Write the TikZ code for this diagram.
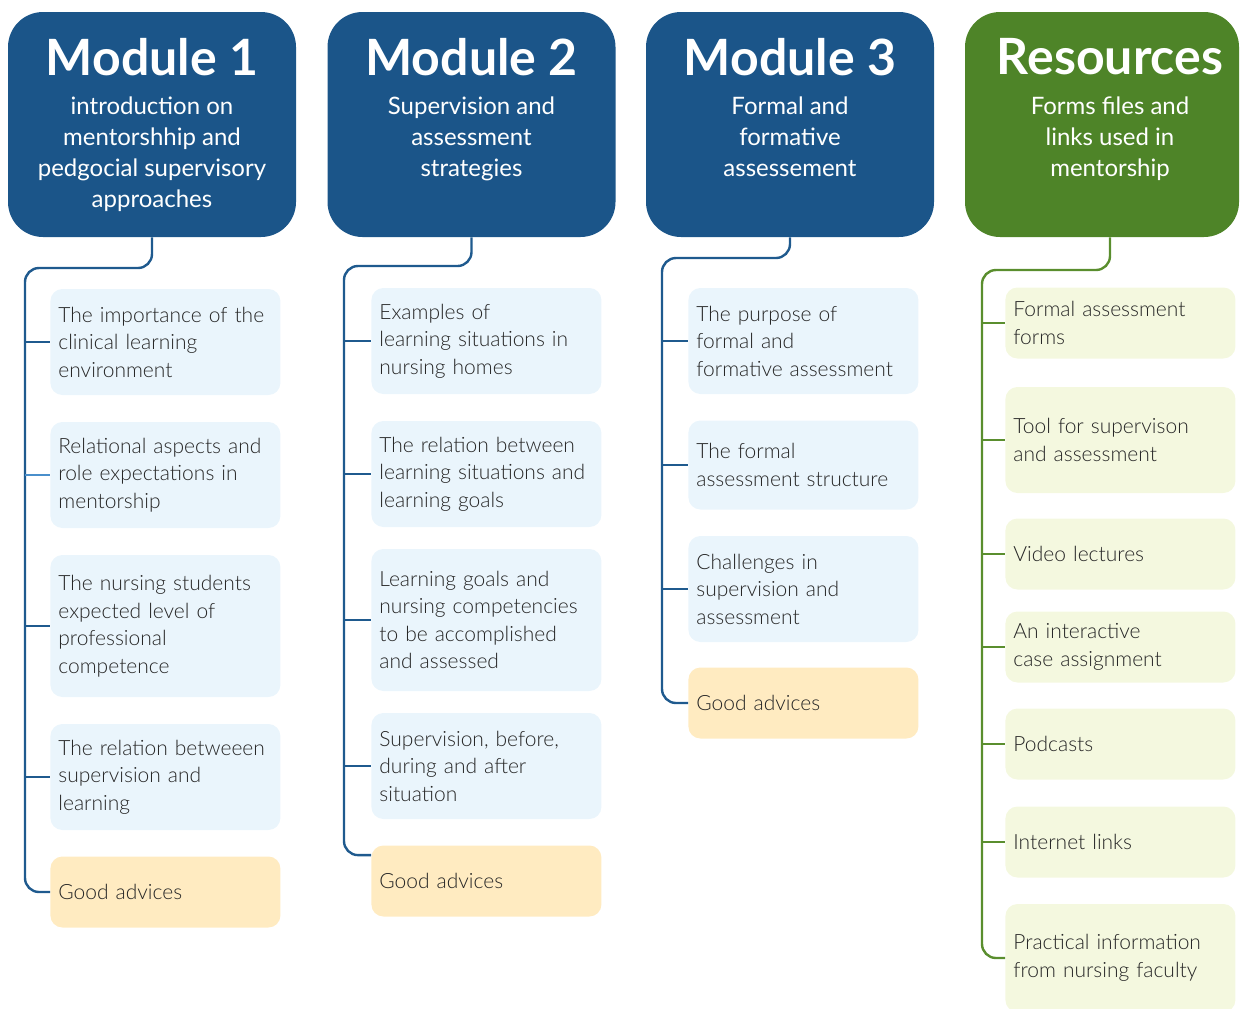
\documentclass[tikz,border=0pt]{standalone}
\usepackage{fontspec}
\setmainfont{Lato}
\newfontfamily\lightfont{Lato Light}
\usetikzlibrary{positioning}
\definecolor{modblue}{HTML}{1B5589}
\definecolor{lineblue}{HTML}{1F5A8E}
\definecolor{lightline}{HTML}{4A8FCB}
\definecolor{resgreen}{HTML}{4E8428}
\definecolor{linegreen}{HTML}{5A8E2E}
\definecolor{paleblue}{HTML}{EAF5FC}
\definecolor{paleorange}{HTML}{FFEBC1}
\definecolor{palegreen}{HTML}{F4F8DF}
\definecolor{textgray}{HTML}{262626}

\begin{document}
\begin{tikzpicture}[x=0.5pt,y=-0.5pt,
hdr/.style={fill=#1,rounded corners=17.5pt,minimum width=144pt,minimum height=112.5pt,inner sep=0pt},
ttl/.style={text=white,inner sep=0pt,font=\fontsize{25}{28}\selectfont\bfseries},
sub/.style={text=white,inner sep=0pt,anchor=north,align=center,font=\fontsize{12}{15.5}\selectfont},
topic/.style={rounded corners=6pt,anchor=west,minimum width=114.5pt,text width=107pt,inner xsep=4pt,
  align=left,text=textgray,font=\fontsize{10.5}{13.75}\selectfont\lightfont},
subtopic/.style={topic,fill=paleblue},
advice/.style={topic,fill=paleorange},
resitem/.style={topic,fill=palegreen},
bline/.style={draw=lineblue,line width=1.2pt,rounded corners=7pt},
gline/.style={draw=linegreen,line width=1.2pt,rounded corners=7pt}]
\useasboundingbox (0,0) rectangle (1242,1008);

%headers
\node[hdr=modblue] (h1) at (152,124.5) {};
\node[hdr=modblue] (h2) at (471.5,124.5) {};
\node[hdr=modblue] (h3) at (790,124.5) {};
\node[hdr=resgreen,minimum width=137pt] (h4) at (1102,124.5) {};
\node[ttl] (t1) at (152,57) {Module 1};
\node[ttl] (t2) at (471.5,57) {Module 2};
\node[ttl] (t3) at (790,57) {Module 3};
\node[ttl] (t4) at (1110,57) {Resources};
\node[sub] (s1) at (152,96) {introduction on\\mentorshhip and\\pedgocial supervisory\\approaches};
\node[sub] (s2) at (471.5,96) {Supervision and\\assessment\\strategies};
\node[sub] (s3) at (790,96) {Formal and\\formative\\assessement};
\node[sub] (s4) at (1110,96) {Forms files and\\links used in\\mentorship};

%module 1
\node[subtopic,minimum height=53pt] (m1a) at (50,342) {The importance of the\\clinical learning\\environment};
\node[subtopic,minimum height=53pt] (m1b) at (50,475) {Relational aspects and\\role expectations in\\mentorship};
\node[subtopic,minimum height=71pt] (m1c) at (50,626) {The nursing students\\expected level of\\professional\\competence};
\node[subtopic,minimum height=53pt] (m1d) at (50,777) {The relation betweeen\\supervision and\\learning};
\node[advice,minimum height=35.5pt] (g1) at (50,892) {Good advices};

%module 2
\node[subtopic,minimum height=53pt] (m2a) at (371,341) {Examples of\\learning situations in\\nursing homes};
\node[subtopic,minimum height=53pt] (m2b) at (371,474) {The relation between\\learning situations and\\learning goals};
\node[subtopic,minimum height=71pt] (m2c) at (371,620) {Learning goals and\\nursing competencies\\to be accomplished\\and assessed};
\node[subtopic,minimum height=53pt] (m2d) at (371,766) {Supervision, before,\\during and after\\situation};
\node[advice,minimum height=35.5pt] (g2) at (371,881) {Good advices};

%module 3
\node[subtopic,minimum height=53pt] (m3a) at (688,341) {The purpose of\\formal and\\formative assessment};
\node[subtopic,minimum height=44.5pt] (m3b) at (688,465) {The formal\\assessment structure};
\node[subtopic,minimum height=53pt] (m3c) at (688,589) {Challenges in\\supervision and\\assessment};
\node[advice,minimum height=35.5pt] (g3) at (688,703) {Good advices};

%resources
\node[resitem,minimum height=35.5pt] (r1) at (1005,323) {Formal assessment\\forms};
\node[resitem,minimum height=53pt] (r2) at (1005,440) {Tool for supervison\\and assessment};
\node[resitem,minimum height=35.5pt] (r3) at (1005,554) {Video lectures};
\node[resitem,minimum height=35.5pt] (r4) at (1005,647) {An interactive\\case assignment};
\node[resitem,minimum height=35.5pt] (r5) at (1005,744) {Podcasts};
\node[resitem,minimum height=35.5pt] (r6) at (1005,842) {Internet links};
\node[resitem,minimum height=54pt] (r7) at (1005,958) {Practical information\\from nursing faculty};

%trunks
\coordinate (k1) at (25,268);
\coordinate (k2) at (344,266);
\coordinate (k3) at (662,258);
\coordinate (k4) at (982,270);
\draw[bline] (h1.south) |- (k1) |- (g1.west);
\draw[bline] (h2.south) |- (k2) |- ([yshift=-5pt]g2.north west);
\draw[bline] (h3.south) |- (k3) |- (g3.west);
\draw[gline] (h4.south -| t4) |- (k4) |- (r7.west);

%branches
\foreach \n in {m1a,m1c,m1d}
  \draw[bline] (\n.west -| k1) -- (\n.west);
\draw[bline,draw=lightline] (m1b.west -| k1) -- (m1b.west);
\foreach \n in {m2a,m2b,m2c,m2d}
  \draw[bline] (\n.west -| k2) -- (\n.west);
\foreach \n in {m3a,m3b,m3c}
  \draw[bline] (\n.west -| k3) -- (\n.west);
\foreach \n in {r1,r2,r3,r4,r5,r6}
  \draw[gline] (\n.west -| k4) -- (\n.west);
\end{tikzpicture}
\end{document}
